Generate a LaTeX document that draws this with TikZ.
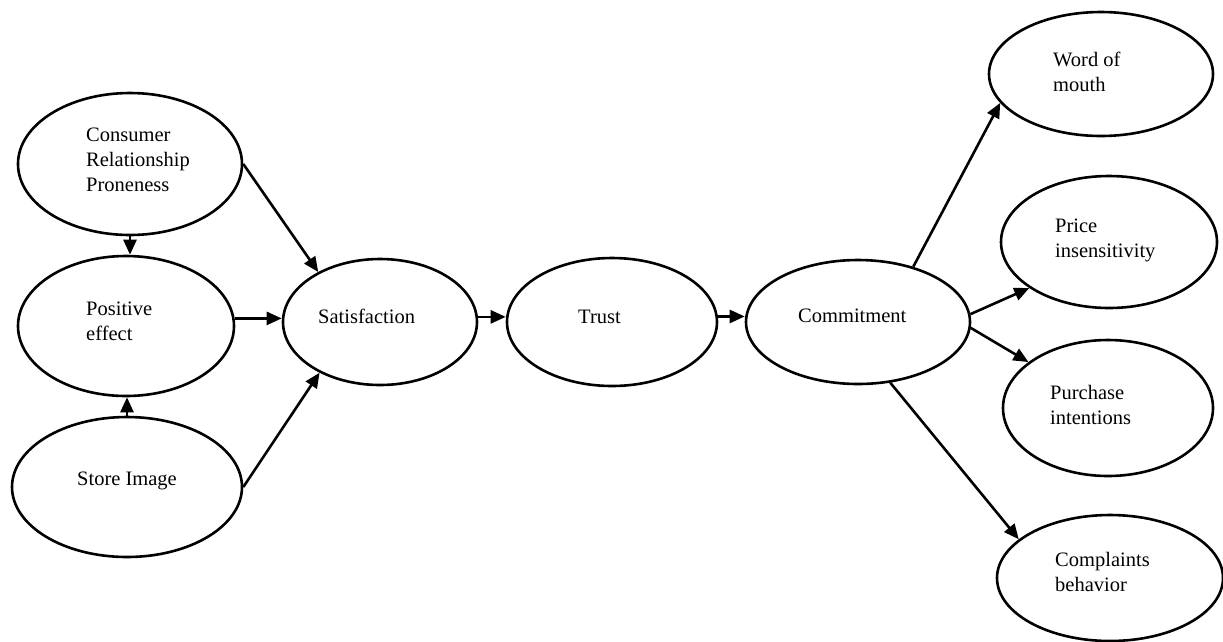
\documentclass[tikz,border=0pt]{standalone}
\usepackage{fontspec}
\setmainfont{Liberation Serif}
\usetikzlibrary{shapes.geometric,arrows.meta}
\tikzset{
  oval/.style={draw=black, ellipse, line width=2.6pt, inner sep=0pt, fill=white},
  lbl/.style={anchor=west, inner sep=0pt, align=left, font=\fontsize{20.5}{25}\selectfont},
  conn/.style={line width=2.6pt, -{Triangle[length=15pt,width=13pt]}}
}
\begin{document}
\begin{tikzpicture}[x=1pt,y=-1pt]
\useasboundingbox[fill=white] (0,0) rectangle (1223,641);
% ellipses
\node[oval, minimum width=224pt, minimum height=142pt] (crp) at (130,164) {};
\node[oval, minimum width=216pt, minimum height=140pt] (pe) at (126,326) {};
\node[oval, minimum width=230pt, minimum height=140pt] (si) at (127,487) {};
\node[oval, minimum width=194pt, minimum height=126pt] (sat) at (380,322) {};
\node[oval, minimum width=210pt, minimum height=128pt] (trust) at (612,322) {};
\node[oval, minimum width=224pt, minimum height=124pt] (com) at (858,322) {};
\node[oval, minimum width=224pt, minimum height=124pt] (wom) at (1101,74) {};
\node[oval, minimum width=216pt, minimum height=132pt] (pri) at (1109,242) {};
\node[oval, minimum width=210pt, minimum height=136pt] (pur) at (1108,408) {};
\node[oval, minimum width=226pt, minimum height=126pt] (cmp) at (1110,578) {};
% labels
\node[lbl] (crpT) at (86,160) {Consumer\\Relationship\\Proneness};
\node[lbl] (peT) at (86,321) {Positive\\effect};
\node[lbl] (siT) at (77,481) {Store Image};
\node[lbl] (satT) at (318,316) {Satisfaction};
\node[lbl] (trustT) at (578,317) {Trust};
\node[lbl] (comT) at (798,316) {Commitment};
\node[lbl] (womT) at (1053,72) {Word of\\mouth};
\node[lbl] (priT) at (1055,240) {Price\\insensitivity};
\node[lbl] (purT) at (1050,405) {Purchase\\intentions};
\node[lbl] (cmpT) at (1055,572) {Complaints\\behavior};
% connectors
\draw[conn] (crp.south) -- (crp.south |- pe.north);
\draw[conn] (si.north) -- (si.north |- pe.south);
\draw[conn] (pe.4) -- (pe.4 -| sat.west);
\draw[conn] (crp.east) -- (sat.141);
\draw[conn] (si.east) -- (sat.220);
\draw[conn] (sat.3) -- (sat.3 -| trust.west);
\draw[conn] (trust.3) -- (trust.3 -| com.west);
\draw[conn] (com.45) -- (wom.196);
\draw[conn] (com.4) -- (pri.210);
\draw[conn] (com.357) -- (pur.150);
\draw[conn] (com.298) -- (cmp.157);
\end{tikzpicture}
\end{document}
